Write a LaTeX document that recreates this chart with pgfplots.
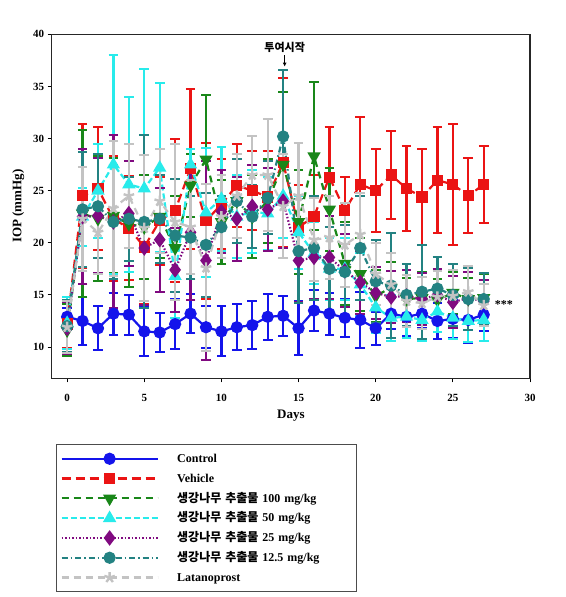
\documentclass[border=0pt]{standalone}
\usepackage{fontspec}
\setmainfont{Liberation Serif}
\newfontfamily\kr{Noto Sans CJK KR}
\usepackage{pgfplots}
\usepackage{pgfplotstable}
\pgfplotsset{compat=1.18}
\usetikzlibrary{arrows.meta}

\definecolor{cctrl}{RGB}{20,20,235}
\definecolor{cveh}{RGB}{235,20,20}
\definecolor{cgrn}{RGB}{25,135,25}
\definecolor{ccyn}{RGB}{40,235,235}
\definecolor{cpur}{RGB}{128,10,128}
\definecolor{cteal}{RGB}{35,130,130}
\definecolor{clat}{RGB}{195,195,195}

\pgfplotstableread{
x y e
0 12.9 0.8
1 12.5 2.3
2 11.8 2.1
3 13.2 2.0
4 13.1 1.9
5 11.5 2.4
6 11.4 1.9
7 12.2 2.4
8 13.2 1.9
9 11.9 2.0
10 11.5 2.4
11 11.9 2.2
12 12.1 2.3
13 12.9 2.2
14 13.0 1.9
15 11.8 2.6
16 13.5 2.0
17 13.2 2.0
18 12.8 1.8
19 12.6 2.7
20 11.8 1.6
21 13.2 1.5
22 12.9 1.8
23 13.2 1.4
24 12.5 1.7
25 12.7 1.8
26 12.6 2.2
27 13.1 1.6
}\ctrl

\pgfplotstableread{
x y e
0 12.2 2.3
1 24.5 6.9
2 25.2 5.9
3 22.3 6.0
4 21.4 5.0
5 19.6 5.5
6 22.1 4.2
7 23.1 6.9
8 27.1 7.7
9 22.1 7.5
10 23.7 4.3
11 25.5 4.0
12 25.0 3.8
13 24.4 4.4
14 27.7 8.1
15 21.5 4.0
16 22.5 4.0
17 26.3 4.8
18 23.1 3.2
19 25.6 6.5
20 25.0 4.0
21 26.5 4.2
22 25.2 4.1
23 24.4 4.6
24 26.0 5.1
25 25.6 5.8
26 24.5 3.6
27 25.6 3.7
}\veh

\pgfplotstableread{
x y e
0 11.6 2.5
1 22.8 8.0
2 22.3 6.0
3 22.6 5.5
4 21.8 6.0
5 21.5 5.0
6 22.5 4.0
7 19.5 5.0
8 25.5 3.0
9 28.0 6.2
10 22.0 4.0
11 24.0 4.0
12 22.5 4.0
13 24.0 4.0
14 27.5 7.0
15 22.0 5.0
16 28.3 7.1
17 23.2 4.0
18 18.0 4.0
19 17.0 3.5
20 14.9 2.5
21 15.7 2.5
22 14.6 2.0
23 14.7 2.5
24 14.5 2.0
25 15.2 2.0
26 14.6 2.0
27 14.7 2.3
}\gcent

\pgfplotstableread{
x y e
0 12.3 2.5
1 22.5 2.8
2 25.0 4.5
3 27.5 10.5
4 25.6 8.4
5 25.2 11.5
6 27.2 8.1
7 16.8 4.0
8 27.5 1.5
9 22.9 6.2
10 24.2 5.0
11 22.5 4.0
12 23.0 4.0
13 22.8 3.5
14 24.5 4.0
15 21.0 3.5
16 19.0 3.0
17 17.5 3.0
18 17.5 3.0
19 16.0 3.0
20 13.8 2.5
21 12.8 2.2
22 12.9 2.0
23 12.6 2.0
24 13.4 2.0
25 12.8 2.0
26 12.5 2.0
27 12.6 2.0
}\cfifty

\pgfplotstableread{
x y e
0 11.8 2.5
1 22.5 6.5
2 22.6 5.5
3 22.0 8.3
4 22.8 5.0
5 19.5 5.5
6 20.3 5.0
7 17.4 4.0
8 21.0 6.5
9 18.3 9.5
10 23.0 4.0
11 22.3 4.0
12 23.5 4.0
13 23.2 4.0
14 24.0 4.5
15 18.3 4.0
16 18.6 4.0
17 18.6 4.0
18 17.3 3.5
19 16.2 3.0
20 15.2 2.5
21 14.8 2.5
22 14.9 2.5
23 14.6 2.5
24 15.0 2.5
25 14.3 2.5
26 14.7 2.5
27 14.4 2.0
}\ptwentyfive

\pgfplotstableread{
x y e
0 12.0 2.5
1 23.2 5.5
2 23.5 5.0
3 22.0 5.5
4 22.3 4.0
5 22.0 8.3
6 22.3 4.2
7 20.7 5.4
8 20.5 4.0
9 19.8 5.0
10 21.5 3.0
11 24.0 4.0
12 22.5 3.0
13 24.3 3.5
14 30.2 6.4
15 19.2 5.0
16 19.5 5.0
17 17.5 4.0
18 17.2 4.5
19 19.5 5.0
20 16.3 4.0
21 15.9 5.0
22 15.0 3.0
23 15.3 4.5
24 15.6 3.0
25 15.0 3.0
26 14.6 3.0
27 14.6 2.5
}\ttwelve

\pgfplotstableread{
x y e
0 11.9 2.5
1 22.3 5.0
2 21.0 4.0
3 23.3 6.5
4 24.5 5.0
5 21.4 7.0
6 24.0 5.0
7 22.0 7.5
8 21.5 4.5
9 17.6 8.0
10 22.5 4.0
11 24.5 4.0
12 26.5 3.7
13 26.5 5.4
14 23.5 5.0
15 24.5 5.1
16 20.3 4.0
17 20.5 4.0
18 19.8 4.0
19 20.8 4.0
20 17.0 3.0
21 16.0 3.0
22 14.4 2.5
23 14.2 2.5
24 14.8 2.5
25 14.9 2.5
26 15.3 2.5
27 14.0 2.0
}\lat

\newcommand{\KR}[1]{{\kr\bfseries #1}}

\begin{document}
\begin{tikzpicture}
\useasboundingbox (-51.7pt,-218.7pt) rectangle (513.3pt,378.3pt);
\begin{axis}[
  at={(0pt,0pt)}, anchor=south west,
  scale only axis,
  width=478.3pt, height=344pt,
  xmin=-1, xmax=30, ymin=7, ymax=40,
  xtick={0,5,...,30}, ytick={10,15,...,40},
  xtick pos=left, ytick pos=left,
  tick align=outside,
  major tick length=4pt,
  axis line style={line width=1.4pt, black!85},
  tick style={line width=1pt, black},
  /pgf/number format/assume math mode=true,
  ticklabel style={font=\bfseries\fontsize{11}{13}\selectfont},
  xticklabel style={yshift=-8pt},
  xlabel={\bfseries Days},
  ylabel={\bfseries IOP (mmHg)},
  label style={font=\bfseries\fontsize{13}{15}\selectfont},
  xlabel style={yshift=-2pt},
  ylabel style={yshift=2pt},
  clip=false,
  legend cell align=left,
  legend style={
    at={(0.009,-0.191)}, anchor=north west,
    draw=black!70, line width=1pt,
    font=\bfseries\fontsize{12}{14}\selectfont,
    row sep=4.3pt,
    inner xsep=4pt, inner ysep=6.5pt,
    nodes={inner sep=1.5pt, text height=10pt, text depth=2.5pt},
    /tikz/every even column/.append style={column sep=0pt},
    /tikz/every odd column/.append style={column sep=17pt},
    text width=174pt,
  },
  legend image code/.code={
    \draw[mark repeat=2,mark phase=2,#1] plot coordinates {(0pt,0pt) (48pt,0pt) (96pt,0pt)};
  },
  every axis plot/.append style={line width=2.2pt},
  error bars/y dir=both,
  error bars/y explicit,
  error bars/error mark options={rotate=90, mark size=4.8pt, line width=2pt, solid},
]
% Control
\addplot[cctrl, solid, mark=*, mark size=5pt, mark options={solid},
  error bars/error bar style={cctrl, line width=2.2pt, solid}]
  table[x=x, y=y, y error=e] {\ctrl};
\addlegendentry{Control}
% Vehicle
\addplot[cveh, dash pattern=on 9pt off 5pt, mark=square*, mark size=4.5pt, mark options={solid},
  error bars/error bar style={cveh, line width=2.2pt, solid}]
  table[x=x, y=y, y error=e] {\veh};
\addlegendentry{Vehicle}
% 100
\addplot[cgrn, dash pattern=on 7pt off 5pt, mark=triangle*, mark size=5.5pt, mark options={solid, rotate=180},
  error bars/error bar style={cgrn, line width=2.2pt, solid}]
  table[x=x, y=y, y error=e] {\gcent};
\addlegendentry{\KR{생강나무 추출물} 100 mg/kg}
% 50
\addplot[ccyn, dash pattern=on 6pt off 3pt, mark=triangle*, mark size=5.5pt, mark options={solid},
  error bars/error bar style={ccyn, line width=2.2pt, solid}]
  table[x=x, y=y, y error=e] {\cfifty};
\addlegendentry{\KR{생강나무 추출물} 50 mg/kg}
% 25
\addplot[cpur, dash pattern=on 1.5pt off 2pt, mark=diamond*, mark size=6pt, mark options={solid},
  error bars/error bar style={cpur, line width=2.2pt, solid}]
  table[x=x, y=y, y error=e] {\ptwentyfive};
\addlegendentry{\KR{생강나무 추출물} 25 mg/kg}
% 12.5
\addplot[cteal, dash pattern=on 6pt off 3pt on 1.5pt off 3pt, mark=*, mark size=5pt, mark options={solid},
  error bars/error bar style={cteal, line width=2.2pt, solid}]
  table[x=x, y=y, y error=e] {\ttwelve};
\addlegendentry{\KR{생강나무 추출물} 12.5 mg/kg}
% Latanoprost
\addplot[clat, dash pattern=on 7pt off 5pt, mark=star, mark size=5.5pt, mark options={solid, line width=2.4pt},
  error bars/error bar style={clat, line width=2.2pt, solid}]
  table[x=x, y=y, y error=e] {\lat};
\addlegendentry{Latanoprost}

\node[font=\kr\bfseries\fontsize{11}{13}\selectfont] at (axis cs:14.1,38.7) {투여시작};
\draw[-{Latex[length=4pt,width=4pt]}, line width=1pt, black] (axis cs:14.1,38.0) -- (axis cs:14.1,36.9);
\node[font=\bfseries\fontsize{12}{14}\selectfont, anchor=west] at (axis cs:27.5,14.1) {***};
\end{axis}
\end{tikzpicture}
\end{document}
